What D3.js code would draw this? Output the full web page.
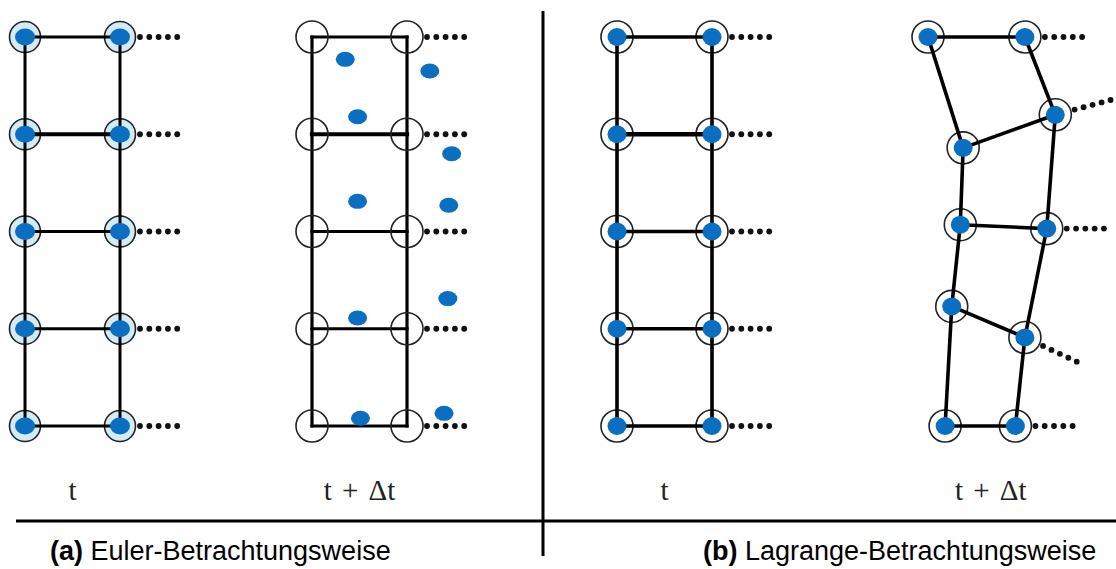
<!DOCTYPE html>
<html>
<head>
<meta charset="utf-8">
<script src="https://cdn.jsdelivr.net/npm/d3@7"></script>
<style>
  html, body { margin: 0; padding: 0; background: #fff; }
  svg { display: block; }
</style>
</head>
<body>
<svg id="fig" width="1116" height="569"></svg>
<script>
// Grid of material points: 2 columns x 5 rows (grid units)
const gridCols = [0, 1];
const gridRows = [0, 1, 2, 3, 4];

// Euler view, t + Δt: particles have left the fixed observation points (grid units)
const eulerParticleCol = [0.35, 1.24, 0.48, 1.47, 0.48, 1.44, 0.48, 1.43, 0.51, 1.39];
const eulerParticleRow = [0.23, 0.35, 0.82, 1.20, 1.69, 1.73, 2.89, 2.69, 3.92, 3.87];

// Lagrange view, t + Δt: the observation points travel with the particles (grid units)
const lagrangeLeftCol  = [0.00, 0.37, 0.34, 0.25, 0.18];
const lagrangeLeftRow  = [0.00, 1.14, 1.93, 2.77, 4.00];
const lagrangeRightCol = [1.02, 1.34, 1.25, 1.02, 0.92];
const lagrangeRightRow = [0.00, 0.80, 1.97, 3.09, 4.00];
// direction of the continuation dots at each right-hand node (degrees)
const lagrangeTrailAngle = [0, -15, 0, 25, 0];

// labels
const timeLabels = ["t", "t + Δt", "t", "t + Δt"];
const timeLabelCol = [0.5, 0.5, 0.5, 0.66];
const captionTags = ["(a)", "(b)"];
const captionTexts = [" Euler-Betrachtungsweise", " Lagrange-Betrachtungsweise"];

const svg = d3.select("#fig");
const BLUE = "#0a6fc0";
const HALO = "#d4ebf6";

// one linear scale pair per panel
function panelScales(left) {
  return {
    x: d3.scaleLinear().domain([0, 1]).range([left, left + 95]),
    y: d3.scaleLinear().domain([0, 4]).range([37, 426])
  };
}
const pEulerT  = panelScales(25);
const pEulerDt = panelScales(312);
const pLagT    = panelScales(617);
const pLagDt   = panelScales(928);

const regularNodes = gridRows.flatMap(r => gridCols.map(c => ({ c, r })));

// five dots continuing the grid to the right
function trailDots(g, cx, cy, angleDeg) {
  const a = angleDeg * Math.PI / 180;
  g.selectAll(null).data(d3.range(5)).join("circle")
    .attr("cx", i => cx + Math.cos(a) * (20 + i * 9.3))
    .attr("cy", i => cy + Math.sin(a) * (20 + i * 9.3))
    .attr("r", 2.9)
    .attr("fill", "#111");
}

function gridLines(g, s, width) {
  // vertical column lines
  g.selectAll(null).data(gridCols).join("line")
    .attr("x1", c => s.x(c)).attr("x2", c => s.x(c))
    .attr("y1", s.y(0)).attr("y2", s.y(4))
    .attr("stroke", "#000").attr("stroke-width", width)
    .attr("stroke-linecap", "square");
  // horizontal row lines
  g.selectAll(null).data(gridRows).join("line")
    .attr("x1", s.x(0)).attr("x2", s.x(1))
    .attr("y1", r => s.y(r)).attr("y2", r => s.y(r))
    .attr("stroke", "#000").attr("stroke-width", r => r === 1 ? width + 1 : width)
    .attr("stroke-linecap", "square");
}

// ---------- (a) Euler, time t ----------
{
  const g = svg.append("g");
  const s = pEulerT;
  g.selectAll(null).data(regularNodes).join("circle")
    .attr("cx", d => s.x(d.c)).attr("cy", d => s.y(d.r)).attr("r", 15.5)
    .attr("fill", HALO).attr("stroke", "#222").attr("stroke-width", 1.6);
  gridLines(g, s, 3);
  g.selectAll(null).data(regularNodes).join("ellipse")
    .attr("cx", d => s.x(d.c)).attr("cy", d => s.y(d.r)).attr("rx", 10).attr("ry", 8.5)
    .attr("fill", BLUE);
  gridRows.forEach(r => trailDots(g, s.x(1), s.y(r), 0));
}

// ---------- (a) Euler, time t + Δt ----------
{
  const g = svg.append("g");
  const s = pEulerDt;
  gridLines(g, s, 3.2);
  g.selectAll(null).data(regularNodes).join("circle")
    .attr("cx", d => s.x(d.c)).attr("cy", d => s.y(d.r)).attr("r", 16)
    .attr("fill", "none").attr("stroke", "#222").attr("stroke-width", 1.6);
  g.selectAll(null).data(d3.range(eulerParticleCol.length)).join("ellipse")
    .attr("cx", i => s.x(eulerParticleCol[i])).attr("cy", i => s.y(eulerParticleRow[i]))
    .attr("rx", 9.5).attr("ry", 7.5)
    .attr("fill", BLUE);
  gridRows.forEach(r => trailDots(g, s.x(1), s.y(r), 0));
}

// ---------- (b) Lagrange, time t ----------
{
  const g = svg.append("g");
  const s = pLagT;
  g.selectAll(null).data(regularNodes).join("circle")
    .attr("cx", d => s.x(d.c)).attr("cy", d => s.y(d.r)).attr("r", 16)
    .attr("fill", "#fff").attr("stroke", "#222").attr("stroke-width", 1.6);
  gridLines(g, s, 3.6);
  g.selectAll(null).data(regularNodes).join("ellipse")
    .attr("cx", d => s.x(d.c)).attr("cy", d => s.y(d.r)).attr("rx", 9.5).attr("ry", 9)
    .attr("fill", BLUE);
  gridRows.forEach(r => trailDots(g, s.x(1), s.y(r), 0));
}

// ---------- (b) Lagrange, time t + Δt ----------
{
  const g = svg.append("g");
  const s = pLagDt;
  const left = gridRows.map(r => [s.x(lagrangeLeftCol[r]), s.y(lagrangeLeftRow[r])]);
  const right = gridRows.map(r => [s.x(lagrangeRightCol[r]), s.y(lagrangeRightRow[r])]);
  const all = left.concat(right);
  g.selectAll(null).data(all).join("circle")
    .attr("cx", d => d[0]).attr("cy", d => d[1]).attr("r", 16)
    .attr("fill", "#fff").attr("stroke", "#222").attr("stroke-width", 1.6);
  const line = d3.line();
  [left, right].forEach(col => {
    g.append("path").attr("d", line(col)).attr("fill", "none")
      .attr("stroke", "#000").attr("stroke-width", 3.6).attr("stroke-linejoin", "round");
  });
  g.selectAll(null).data(gridRows).join("line")
    .attr("x1", r => left[r][0]).attr("y1", r => left[r][1])
    .attr("x2", r => right[r][0]).attr("y2", r => right[r][1])
    .attr("stroke", "#000").attr("stroke-width", 3.6);
  g.selectAll(null).data(all).join("ellipse")
    .attr("cx", d => d[0]).attr("cy", d => d[1]).attr("rx", 9.5).attr("ry", 9)
    .attr("fill", BLUE);
  gridRows.forEach(r => trailDots(g, right[r][0], right[r][1], lagrangeTrailAngle[r]));
}

// ---------- time labels ----------
const panels = [pEulerT, pEulerDt, pLagT, pLagDt];
svg.selectAll("text.time").data(timeLabels).join("text")
  .attr("class", "time")
  .attr("x", (d, i) => panels[i].x(timeLabelCol[i]))
  .attr("y", 500)
  .attr("text-anchor", "middle")
  .attr("font-family", "'Liberation Serif', 'DejaVu Serif', serif")
  .attr("font-size", 29)
  .attr("word-spacing", 3)
  .attr("fill", "#222")
  .text(d => d);

// ---------- frame lines ----------
svg.append("line").attr("x1", 16).attr("x2", 1116).attr("y1", 521).attr("y2", 521)
  .attr("stroke", "#000").attr("stroke-width", 3);
svg.append("line").attr("x1", 543).attr("x2", 543).attr("y1", 11).attr("y2", 556)
  .attr("stroke", "#000").attr("stroke-width", 3);

// ---------- captions ----------
const captionX = [50, 703];
captionTags.forEach((tag, i) => {
  const t = svg.append("text")
    .attr("x", captionX[i]).attr("y", 560)
    .attr("font-family", "'Liberation Sans', Arial, sans-serif")
    .attr("font-size", 27)
    .attr("fill", "#000");
  t.append("tspan").attr("font-weight", "bold").text(tag);
  t.append("tspan").text(captionTexts[i]);
});
</script>
</body>
</html>
